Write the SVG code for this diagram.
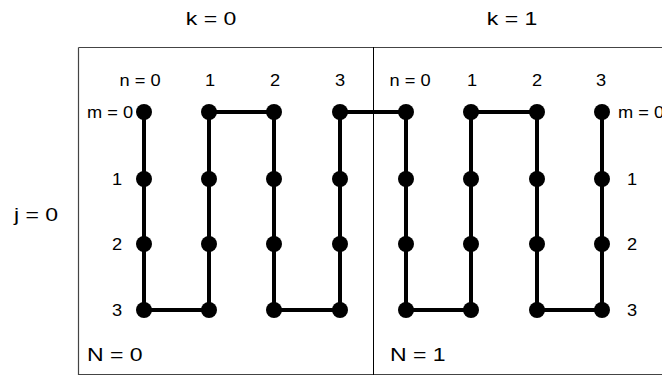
<svg xmlns="http://www.w3.org/2000/svg" width="662" height="376" viewBox="0 0 662 376">
<style>
text{font-family:"Liberation Sans",Arial,sans-serif;fill:#000}
.o{font-size:18px}
.i{font-size:16px}
.frame{fill:none;stroke:#444;stroke-width:1.2}
.wire{fill:none;stroke:#000;stroke-width:4;stroke-linejoin:miter}
.dot{fill:#000}
.m{text-anchor:middle}
</style>
<rect width="662" height="376" fill="#fff"/>
<g id="frame">
<path class="frame" d="M78.5,47.5 H662 M78.5,47.5 V374.5 H662"/>
<line x1="373.5" y1="47" x2="373.5" y2="375" stroke="#000" stroke-width="1"/>
</g>
<g id="labels">
<text class="o m" transform="translate(211,25) scale(1.28,1)">k = 0</text>
<text class="o m" transform="translate(512,25) scale(1.28,1)">k = 1</text>
<text class="o m" transform="translate(36,221) scale(1.28,1)">j = 0</text>
<text class="o" transform="translate(87,361) scale(1.28,1)">N = 0</text>
<text class="o" transform="translate(390,361) scale(1.28,1)">N = 1</text>
<text class="i m" transform="translate(140,86) scale(1.14,1)">n = 0</text>
<text class="i m" transform="translate(210,86) scale(1.14,1)">1</text>
<text class="i m" transform="translate(275,86) scale(1.14,1)">2</text>
<text class="i m" transform="translate(340,86) scale(1.14,1)">3</text>
<text class="i m" transform="translate(410,86) scale(1.14,1)">n = 0</text>
<text class="i m" transform="translate(472,86) scale(1.14,1)">1</text>
<text class="i m" transform="translate(537,86) scale(1.14,1)">2</text>
<text class="i m" transform="translate(601,86) scale(1.14,1)">3</text>
<text class="i" transform="translate(87,118) scale(1.14,1)">m = 0</text>
<text class="i m" transform="translate(117,185) scale(1.14,1)">1</text>
<text class="i m" transform="translate(117,250) scale(1.14,1)">2</text>
<text class="i m" transform="translate(117,316) scale(1.14,1)">3</text>
<text class="i" transform="translate(618,118) scale(1.14,1)">m = 0</text>
<text class="i m" transform="translate(632,185) scale(1.14,1)">1</text>
<text class="i m" transform="translate(632,250) scale(1.14,1)">2</text>
<text class="i m" transform="translate(632,316) scale(1.14,1)">3</text>
</g>
<g id="connectors">
<path class="wire" d="M144,112 V310 H209 V112 H274 V310 H340 V112 H406 V310 H471 V112 H537 V310 H602 V112"/>
</g>
<g id="nodes" class="dot">
<g id="k0n0"><circle cx="144" cy="112" r="8"/><circle cx="144" cy="179" r="8"/><circle cx="144" cy="244" r="8"/><circle cx="144" cy="310" r="8"/></g>
<g id="k0n1"><circle cx="209" cy="112" r="8"/><circle cx="209" cy="179" r="8"/><circle cx="209" cy="244" r="8"/><circle cx="209" cy="310" r="8"/></g>
<g id="k0n2"><circle cx="274" cy="112" r="8"/><circle cx="274" cy="179" r="8"/><circle cx="274" cy="244" r="8"/><circle cx="274" cy="310" r="8"/></g>
<g id="k0n3"><circle cx="340" cy="112" r="8"/><circle cx="340" cy="179" r="8"/><circle cx="340" cy="244" r="8"/><circle cx="340" cy="310" r="8"/></g>
<g id="k1n0"><circle cx="406" cy="112" r="8"/><circle cx="406" cy="179" r="8"/><circle cx="406" cy="244" r="8"/><circle cx="406" cy="310" r="8"/></g>
<g id="k1n1"><circle cx="471" cy="112" r="8"/><circle cx="471" cy="179" r="8"/><circle cx="471" cy="244" r="8"/><circle cx="471" cy="310" r="8"/></g>
<g id="k1n2"><circle cx="537" cy="112" r="8"/><circle cx="537" cy="179" r="8"/><circle cx="537" cy="244" r="8"/><circle cx="537" cy="310" r="8"/></g>
<g id="k1n3"><circle cx="602" cy="112" r="8"/><circle cx="602" cy="179" r="8"/><circle cx="602" cy="244" r="8"/><circle cx="602" cy="310" r="8"/></g>
</g>
</svg>
